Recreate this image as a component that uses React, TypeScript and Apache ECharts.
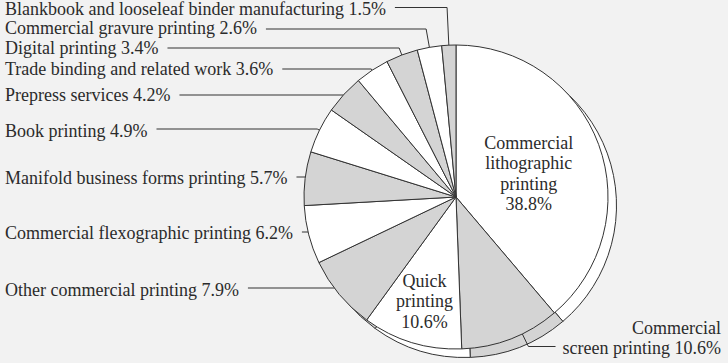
import React, { useEffect, useRef } from 'react';
import * as echarts from 'echarts';

// ---- data (clockwise from 12 o'clock) ----
const categories = [
  'Commercial lithographic printing',
  'Commercial screen printing',
  'Quick printing',
  'Other commercial printing',
  'Commercial flexographic printing',
  'Manifold business forms printing',
  'Book printing',
  'Prepress services',
  'Trade binding and related work',
  'Digital printing',
  'Commercial gravure printing',
  'Blankbook and looseleaf binder manufacturing',
];
const shares = [38.8, 10.6, 10.6, 7.9, 6.2, 5.7, 4.9, 4.2, 3.6, 3.4, 2.6, 1.5];

// ---- layout / style ----
const W = 728;
const H = 363;
const CX = 456;
const CY = 197;
const R = 152;
const DEPTH_X = 8.5;
const DEPTH_Y = 8.5;
const LEFT_X = 5;
const GAP = 9;
const FONT = 'Liberation Serif';
const FONT_SIZE = 18;
const TEXT = '#2b2b2b';
const LINE = '#333333';
const WHITE = '#ffffff';
const GRAY = '#d4d4d4';
const BG = '#f2f2f2';

const labelKind = ['inside', 'right', 'inside', 'left', 'left', 'left', 'left', 'left', 'left', 'left', 'left', 'left'];
const labelY = [0, 338, 0, 290, 232.5, 177.5, 131, 94.7, 68.7, 48, 28, 9];
const lineY = [0, 346.5, 0, 288, 232, 177, 129, 95, 69, 48, 29, 7.5];
const anchorFrac = [0, 0.847, 0, 0.77, 0.81, 0.84, 0.78, 0.86, 0.855, 0.84, 0.87, 0.88];
const anchorDa = [0, 4.6, 0, 0, 0, 0, 0, 0, 0, 0, 0, 0];
const insideFrac = [0.51, 0, 0.71, 0, 0, 0, 0, 0, 0, 0, 0, 0];
const insideDy = [3, 0, 1, 0, 0, 0, 0, 0, 0, 0, 0, 0];
const RIGHT_X = 721;

const total = shares.reduce((a, b) => a + b, 0);
const midAngles: number[] = [];
{
  let acc = 0;
  for (const v of shares) {
    const a0 = 90 - (acc / total) * 360;
    const a1 = 90 - ((acc + v) / total) * 360;
    midAngles.push(((a0 + a1) / 2) * (Math.PI / 180));
    acc += v;
  }
}

function labelText(i: number): string {
  const name = categories[i];
  const val = shares[i].toFixed(1) + '%';
  const kind = labelKind[i];
  if (kind === 'inside') return name.split(' ').join('\n') + '\n' + val;
  if (kind === 'right') {
    const sp = name.indexOf(' ');
    return name.slice(0, sp) + '\n' + name.slice(sp + 1) + ' ' + val;
  }
  return name + ' ' + val;
}

export default function App() {
  const ref = useRef<HTMLDivElement>(null);
  useEffect(() => {
    if (!ref.current) return;
    const chart = echarts.init(ref.current, undefined, { renderer: 'svg' });

    const colorOf = (i: number) => (i % 2 === 0 ? WHITE : GRAY);

    const shadowData = categories.map((name, i) => ({
      name,
      value: shares[i],
      itemStyle: { color: colorOf(i) },
    }));

    const mainData = categories.map((name, i) => ({
      name,
      value: shares[i],
      itemStyle: { color: colorOf(i) },
      labelLine: { show: labelKind[i] !== 'inside' },
    }));

    chart.setOption({
      animation: false,
      backgroundColor: BG,
      series: [
        {
          type: 'pie',
          silent: true,
          center: [CX + DEPTH_X, CY + DEPTH_Y],
          radius: [0, R],
          startAngle: 90,
          clockwise: true,
          avoidLabelOverlap: false,
          label: { show: false },
          labelLine: { show: false },
          itemStyle: { borderColor: LINE, borderWidth: 1 },
          data: shadowData,
          z: 1,
        },
        {
          type: 'pie',
          silent: true,
          center: [CX, CY],
          radius: [0, R],
          startAngle: 90,
          clockwise: true,
          avoidLabelOverlap: false,
          itemStyle: { borderColor: LINE, borderWidth: 1 },
          label: {
            show: true,
            position: 'outside',
            formatter: (p: any) => labelText(p.dataIndex),
            fontFamily: FONT,
            fontSize: FONT_SIZE,
            color: TEXT,
            lineHeight: 20.5,
          },
          labelLine: {
            show: true,
            lineStyle: { color: LINE, width: 1 },
          },
          labelLayout: (params: any) => {
            const i = params.dataIndex;
            const kind = labelKind[i];
            const a = midAngles[i];
            if (kind === 'inside') {
              return {
                x: CX + insideFrac[i] * R * Math.cos(a),
                y: CY - insideFrac[i] * R * Math.sin(a) + insideDy[i],
                align: 'center',
                verticalAlign: 'middle',
              };
            }
            const aa = a + (anchorDa[i] * Math.PI) / 180;
            const ax = CX + anchorFrac[i] * R * Math.cos(aa);
            const ay = CY - anchorFrac[i] * R * Math.sin(aa);
            const ly = lineY[i];
            const s = Math.sin(aa);
            let start: number[];
            let bend: number[];
            if (Math.abs(s) < 0.3) {
              start = [ax, ly];
              bend = [ax, ly];
            } else {
              const t = (ay - ly) / s;
              start = [ax, ay];
              bend = [ax + t * Math.cos(aa), ly];
            }
            const w = params.labelRect.width;
            if (kind === 'right') {
              return {
                x: RIGHT_X,
                y: labelY[i],
                align: 'right',
                verticalAlign: 'middle',
                labelLinePoints: [start, bend, [RIGHT_X - w - 7, ly]],
              };
            }
            return {
              x: LEFT_X,
              y: labelY[i],
              align: 'left',
              verticalAlign: 'middle',
              labelLinePoints: [start, bend, [LEFT_X + w + GAP, ly]],
            };
          },
          data: mainData,
          z: 2,
        },
      ],
    });
    return () => chart.dispose();
  }, []);
  return (
    <div
      ref={ref}
      style={{ position: 'absolute', left: 0, top: 0, width: W, height: H }}
    />
  );
}
